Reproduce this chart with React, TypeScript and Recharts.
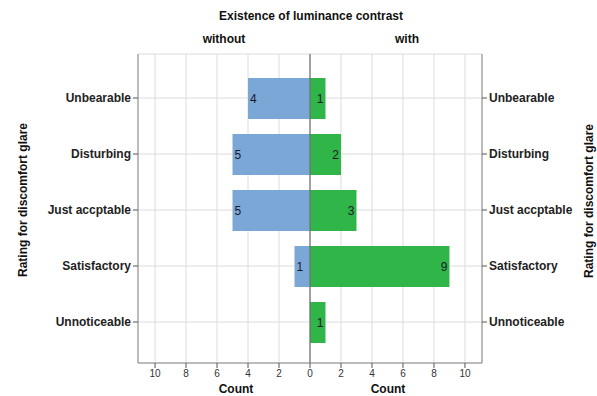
import React from 'react';
import { BarChart, Bar, XAxis, YAxis, CartesianGrid, ReferenceLine, LabelList } from 'recharts';

const ratings = ['Unbearable', 'Disturbing', 'Just accptable', 'Satisfactory', 'Unnoticeable'];
const withoutCounts = [4, 5, 5, 1, 0];
const withCounts = [1, 2, 3, 9, 1];
const xTicks = [-10, -8, -6, -4, -2, 0, 2, 4, 6, 8, 10];

const data = ratings.map((r, i) => ({
  rating: r,
  without: withoutCounts[i] ? -withoutCounts[i] : null,
  with: withCounts[i] || null,
}));

const FONT = '"Liberation Sans", Arial, sans-serif';
const W = 597;
const H = 396;

const labelStyle = { fontFamily: FONT, fontSize: 12, fill: '#1a1a2a' };

const renderWithoutLabel = (props: any) => {
  const { x, y, width, height, value } = props;
  if (value == null) return null;
  const left = Math.min(x, x + width);
  return (
    <text x={left + 2} y={y + height / 2 + 4} style={labelStyle} textAnchor="start">
      {Math.abs(value)}
    </text>
  );
};

const renderWithLabel = (props: any) => {
  const { x, y, width, height, value } = props;
  if (value == null) return null;
  const right = Math.max(x, x + width);
  return (
    <text x={right - 2} y={y + height / 2 + 4} style={labelStyle} textAnchor="end">
      {value}
    </text>
  );
};

export default function App() {
  return (
    <div style={{ position: 'absolute', left: 0, top: 0, width: W, height: H, background: '#fff' }}>
      <BarChart
        width={W}
        height={H}
        data={data}
        layout="vertical"
        stackOffset="sign"
        margin={{ top: 54, right: 10, bottom: 13, left: 10 }}
      >
        <CartesianGrid stroke="#dcdcdc" strokeWidth={1} />
        <XAxis
          type="number"
          domain={[-11.1, 11.1]}
          ticks={xTicks}
          allowDataOverflow
          tickFormatter={(v: number) => String(Math.abs(v))}
          axisLine={{ stroke: '#8a8a8a' }}
          tickLine={{ stroke: '#555' }}
          tickSize={5}
          height={20}
          tick={{ fontFamily: FONT, fontSize: 10, fill: '#333' }}
        />
        <YAxis
          type="category"
          dataKey="rating"
          width={128}
          padding={{ top: 16, bottom: 13 }}
          axisLine={{ stroke: '#8a8a8a' }}
          tickLine={{ stroke: '#555' }}
          tickSize={5}
          tickMargin={2}
          tick={{ fontFamily: FONT, fontSize: 12, fontWeight: 'bold', fill: '#222' }}
        />
        <YAxis
          yAxisId="right"
          orientation="right"
          type="category"
          dataKey="rating"
          width={105}
          padding={{ top: 16, bottom: 13 }}
          axisLine={{ stroke: '#8a8a8a' }}
          tickLine={{ stroke: '#555' }}
          tickSize={5}
          tickMargin={2}
          tick={{ fontFamily: FONT, fontSize: 12, fontWeight: 'bold', fill: '#222', textAnchor: 'start' }}
        />
        <Bar dataKey="without" stackId="a" fill="#7aa7d6" barSize={41} isAnimationActive={false}>
          <LabelList dataKey="without" content={renderWithoutLabel} />
        </Bar>
        <Bar dataKey="with" stackId="a" fill="#30b549" barSize={41} isAnimationActive={false}>
          <LabelList dataKey="with" content={renderWithLabel} />
        </Bar>
        <ReferenceLine x={0} stroke="#6e6e6e" strokeWidth={1.2} />
      </BarChart>
      <svg
        width={W}
        height={H}
        style={{ position: 'absolute', left: 0, top: 0, pointerEvents: 'none' }}
      >
        <g style={{ fontFamily: FONT, fontWeight: 'bold', fontSize: 12, fill: '#111' }}>
          <text x={311} y={20} textAnchor="middle">Existence of luminance contrast</text>
          <text x={224} y={43} textAnchor="middle">without</text>
          <text x={407} y={43} textAnchor="middle">with</text>
          <text x={236} y={393} textAnchor="middle">Count</text>
          <text x={388} y={393} textAnchor="middle">Count</text>
          <text transform="translate(27,200) rotate(-90)" textAnchor="middle">Rating for discomfort glare</text>
          <text transform="translate(593,201) rotate(-90)" textAnchor="middle">Rating for discomfort glare</text>
        </g>
      </svg>
    </div>
  );
}
